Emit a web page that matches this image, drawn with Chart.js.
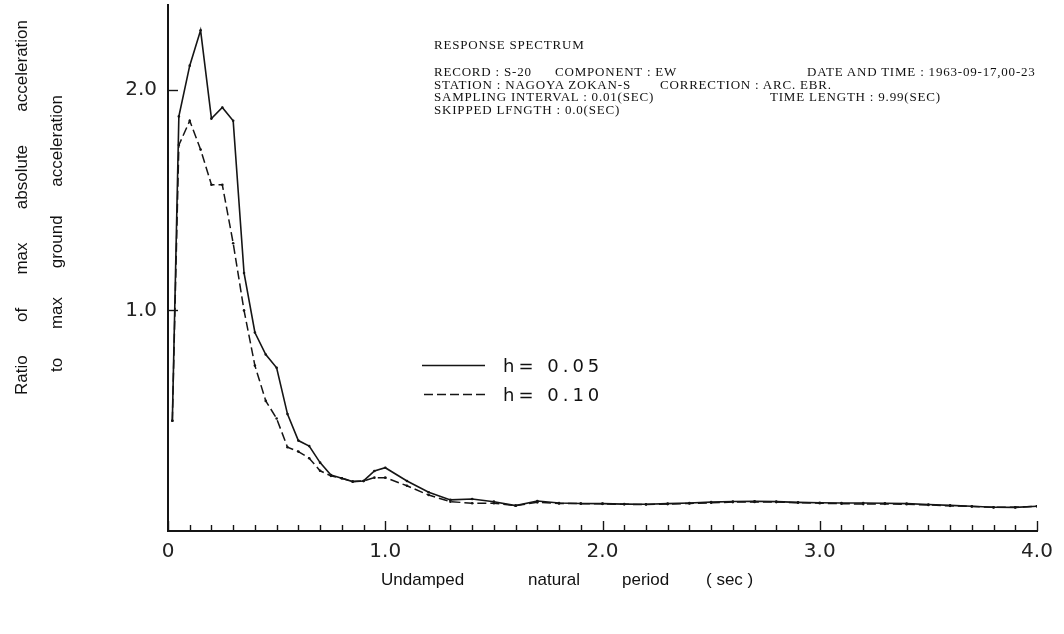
<!DOCTYPE html>
<html>
<head>
<meta charset="utf-8">
<script src="https://cdn.jsdelivr.net/npm/chart.js@4.4.1/dist/chart.umd.min.js"></script>
<style>
  html, body { margin: 0; padding: 0; background: #fff; }
  #wrap { position: relative; width: 1064px; height: 634px; overflow: hidden; }
  #chart { position: absolute; left: 0; top: 0; }
  .note { position: absolute; font-family: "Liberation Serif", serif; font-size: 13px; letter-spacing: 0.8px; color: #111; white-space: pre; line-height: 12px; }
  .leg { position: absolute; font-family: "DejaVu Sans", sans-serif; font-size: 18px; letter-spacing: 4px; color: #111; line-height: 20px; white-space: pre; }
  .ytitle { position: absolute; transform-origin: 0 0; transform: rotate(-90deg); font-family: "Liberation Sans", sans-serif; font-size: 17px; height: 20px; line-height: 20px; text-align: justify; text-align-last: justify; color: #111; }
  .xtitle { position: absolute; font-family: "Liberation Sans", sans-serif; font-size: 17px; line-height: 20px; white-space: pre; color: #111; }
</style>
</head>
<body>
<div id="wrap">
  <canvas id="chart" width="1064" height="634"></canvas>

  <div class="note" style="left:434px; top:39px;">RESPONSE SPECTRUM</div>
  <div class="note" style="left:434px; top:66px;">RECORD : S-20</div>
  <div class="note" style="left:555px; top:66px;">COMPONENT : EW</div>
  <div class="note" style="left:807px; top:66px;">DATE AND TIME : 1963-09-17,00-23</div>
  <div class="note" style="left:434px; top:79px;">STATION : NAGOYA ZOKAN-S</div>
  <div class="note" style="left:660px; top:79px;">CORRECTION : ARC. EBR.</div>
  <div class="note" style="left:434px; top:91px;">SAMPLING INTERVAL : 0.01(SEC)</div>
  <div class="note" style="left:770px; top:91px;">TIME LENGTH : 9.99(SEC)</div>
  <div class="note" style="left:434px; top:104px;">SKIPPED LFNGTH : 0.0(SEC)</div>

  <div class="leg" style="left:503px; top:356px;">h= 0.05</div>
  <div class="leg" style="left:503px; top:385px;">h= 0.10</div>

  <div class="ytitle" style="left:12px; top:395px; width:375px;">Ratio of max absolute acceleration</div>
  <div class="ytitle" style="left:47px; top:372px; width:277px;">to max ground acceleration</div>

  <div class="xtitle" style="left:381px; top:570px;">Undamped</div>
  <div class="xtitle" style="left:528px; top:570px;">natural</div>
  <div class="xtitle" style="left:622px; top:570px;">period</div>
  <div class="xtitle" style="left:706px; top:570px;">( sec )</div>
</div>

<script>
// undamped natural period (sec)
const periods = [0.02, 0.05, 0.10, 0.15, 0.20, 0.25, 0.30, 0.35, 0.40, 0.45, 0.50,
  0.55, 0.60, 0.65, 0.70, 0.75, 0.80, 0.85, 0.90, 0.95, 1.00,
  1.1, 1.2, 1.3, 1.4, 1.5, 1.6, 1.7, 1.8, 1.9, 2.0,
  2.1, 2.2, 2.3, 2.4, 2.5, 2.6, 2.7, 2.8, 2.9, 3.0,
  3.1, 3.2, 3.3, 3.4, 3.5, 3.6, 3.7, 3.8, 3.9, 4.0];

// h = 0.05 (solid)
const ratioH005 = [0.50, 1.88, 2.11, 2.27, 1.87, 1.92, 1.86, 1.17, 0.90, 0.80, 0.74,
  0.53, 0.41, 0.385, 0.31, 0.254, 0.239, 0.224, 0.227, 0.272, 0.287,
  0.227, 0.176, 0.141, 0.145, 0.133, 0.115, 0.136, 0.127, 0.125, 0.124,
  0.122, 0.121, 0.124, 0.127, 0.131, 0.134, 0.135, 0.133, 0.130, 0.128,
  0.127, 0.127, 0.126, 0.124, 0.120, 0.116, 0.112, 0.108, 0.107, 0.112];

// h = 0.10 (dashed)
const ratioH010 = [0.50, 1.75, 1.86, 1.73, 1.57, 1.57, 1.305, 1.00, 0.75, 0.59, 0.51,
  0.38, 0.36, 0.33, 0.273, 0.25, 0.239, 0.224, 0.227, 0.242, 0.242,
  0.205, 0.163, 0.133, 0.126, 0.126, 0.115, 0.13, 0.125, 0.124, 0.123,
  0.121, 0.120, 0.122, 0.125, 0.128, 0.131, 0.132, 0.131, 0.128, 0.126,
  0.124, 0.122, 0.123, 0.121, 0.118, 0.114, 0.111, 0.107, 0.108, 0.112];

const xLabelTicks = [0, 1, 2, 3, 4];
const yLabelTicks = [1, 2];
const minorStep = 0.1;

const ink = "#151515";

function toPoints(values) {
  return periods.map((p, i) => ({ x: p, y: values[i] }));
}

// tick marks point inward, plus legend line samples
const inwardTicks = {
  id: "inwardTicks",
  afterDatasetsDraw(chart) {
    const { ctx, chartArea, scales } = chart;
    const x = scales.x;
    const y = scales.y;
    ctx.save();
    ctx.strokeStyle = ink;
    ctx.lineWidth = 1.4;
    const count = Math.round((x.max - x.min) / minorStep);
    for (let i = 0; i <= count; i++) {
      const v = x.min + i * minorStep;
      const px = Math.round(x.getPixelForValue(v)) + 0.5;
      const len = i % 10 === 0 ? 10 : 6;
      ctx.beginPath();
      ctx.moveTo(px, chartArea.bottom);
      ctx.lineTo(px, chartArea.bottom - len);
      ctx.stroke();
    }
    yLabelTicks.forEach((v) => {
      const py = Math.round(y.getPixelForValue(v)) + 0.5;
      ctx.beginPath();
      ctx.moveTo(chartArea.left, py);
      ctx.lineTo(chartArea.left + 10, py);
      ctx.stroke();
    });

    // legend samples
    ctx.lineWidth = 1.5;
    ctx.beginPath();
    ctx.moveTo(422, 365.5);
    ctx.lineTo(485, 365.5);
    ctx.stroke();
    ctx.setLineDash([9, 4]);
    ctx.beginPath();
    ctx.moveTo(424, 394.5);
    ctx.lineTo(485, 394.5);
    ctx.stroke();
    ctx.restore();
  },
};

const chart = new Chart(document.getElementById("chart"), {
  type: "line",
  data: {
    datasets: [
      {
        label: "h=0.05",
        data: toPoints(ratioH005),
        borderColor: ink,
        borderWidth: 1.6,
        pointRadius: 1.3,
        pointBackgroundColor: ink,
        pointBorderWidth: 0,
        tension: 0,
      },
      {
        label: "h=0.10",
        data: toPoints(ratioH010),
        borderColor: ink,
        borderWidth: 1.5,
        borderDash: [9, 4],
        pointRadius: 1.3,
        pointBackgroundColor: ink,
        pointBorderWidth: 0,
        tension: 0,
      },
    ],
  },
  options: {
    responsive: false,
    animation: false,
    layout: { padding: { left: 0, right: 27, top: 5, bottom: 0 } },
    plugins: {
      legend: { display: false },
      tooltip: { enabled: false },
    },
    scales: {
      x: {
        type: "linear",
        min: 0,
        max: 4,
        afterBuildTicks: (scale) => {
          scale.ticks = xLabelTicks.map((v) => ({ value: v }));
        },
        afterFit: (scale) => {
          scale.height = 103;
        },
        grid: { display: false, drawTicks: false },
        border: { display: true, color: ink, width: 2 },
        ticks: {
          padding: 9,
          color: "#222",
          font: { family: "DejaVu Sans", size: 20 },
          callback: (v) => (v === 0 ? "0" : Number(v).toFixed(1)),
        },
      },
      y: {
        min: 0,
        max: 2.385,
        afterBuildTicks: (scale) => {
          scale.ticks = yLabelTicks.map((v) => ({ value: v }));
        },
        afterFit: (scale) => {
          scale.width = 168;
          scale.paddingTop = 0;
          scale.paddingBottom = 0;
        },
        grid: { display: false, drawTicks: false },
        border: { display: true, color: ink, width: 2 },
        ticks: {
          padding: 11,
          color: "#222",
          font: { family: "DejaVu Sans", size: 20 },
          callback: (v) => Number(v).toFixed(1),
        },
      },
    },
  },
  plugins: [inwardTicks],
});
</script>
</body>
</html>
